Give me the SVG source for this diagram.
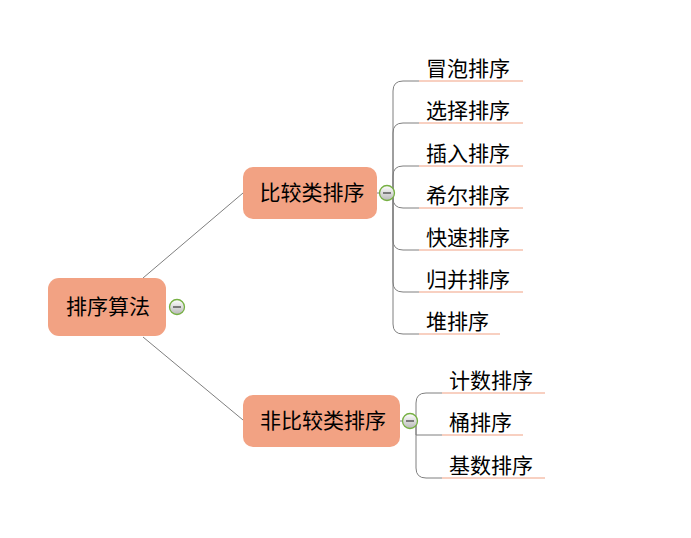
<svg xmlns="http://www.w3.org/2000/svg" width="691" height="538" viewBox="0 0 691 538">
<defs>
<linearGradient id="btn" x1="0" y1="0" x2="0" y2="1">
<stop offset="0" stop-color="#ffffff"/>
<stop offset="1" stop-color="#b8b8b8"/>
</linearGradient>
</defs>
<style>
.node{fill:#F2A283;}
.t{font-family:"Noto Sans CJK SC","Noto Sans",sans-serif;font-size:21px;fill:#000;}
.nt{text-anchor:middle;}
.ln{fill:none;stroke:#7f7f7f;stroke-width:1;}
.ul{fill:none;stroke:#F2A283;stroke-width:1.2;}
.btn{fill:url(#btn);stroke:#76B043;stroke-width:1.3;}
.minus{stroke:#444;stroke-width:1.3;}
</style>
<rect width="691" height="538" fill="#ffffff"/>
<g id="connectors">
<path class="ln" d="M143,278 L243,193"/>
<path class="ln" d="M143,337 L243,420"/>
<path class="ln" d="M377,193 L381,193"/>
<path class="ln" d="M393,193 V91 Q393,81 403,81 H419"/>
<path class="ln" d="M393,193 V133 Q393,123 403,123 H419"/>
<path class="ln" d="M393,193 V176 Q393,166 403,166 H419"/>
<path class="ln" d="M393,193 V198 Q393,208 403,208 H419"/>
<path class="ln" d="M393,193 V240 Q393,250 403,250 H419"/>
<path class="ln" d="M393,193 V282 Q393,292 403,292 H419"/>
<path class="ln" d="M393,193 V324 Q393,334 403,334 H419"/>
<path class="ln" d="M400,421 L404,421"/>
<path class="ln" d="M416,421 V403 Q416,393 426,393 H442"/>
<path class="ln" d="M416,421 V435 H442"/>
<path class="ln" d="M416,421 V468 Q416,478 426,478 H442"/>
<path class="ul" d="M419,81 H523 M419,123 H523 M419,166 H523 M419,208 H523 M419,250 H523 M419,292 H523 M419,334 H500"/>
<path class="ul" d="M442,393 H545 M442,435 H523 M442,478 H545"/>
</g>
<g id="root">
<rect class="node" x="48" y="278" width="118" height="58" rx="11"/>
<text class="t nt" x="108" y="314">排序算法</text>
</g>
<g id="root-toggle">
<circle class="btn" cx="177" cy="307" r="7.5"/>
<line class="minus" x1="173" y1="307" x2="181" y2="307"/>
</g>
<g id="compare">
<rect class="node" x="243" y="167" width="134" height="52" rx="10"/>
<text class="t nt" x="312" y="200">比较类排序</text>
</g>
<g id="compare-toggle">
<circle class="btn" cx="387" cy="193" r="7.5"/>
<line class="minus" x1="383" y1="193" x2="391" y2="193"/>
</g>
<g id="noncompare">
<rect class="node" x="243" y="395" width="157" height="52" rx="10"/>
<text class="t nt" x="323" y="428">非比较类排序</text>
</g>
<g id="noncompare-toggle">
<circle class="btn" cx="410" cy="421" r="7.5"/>
<line class="minus" x1="406" y1="421" x2="414" y2="421"/>
</g>
<g id="bubble"><text class="t" x="426" y="76">冒泡排序</text></g>
<g id="selection"><text class="t" x="426" y="118">选择排序</text></g>
<g id="insertion"><text class="t" x="426" y="161">插入排序</text></g>
<g id="shell"><text class="t" x="426" y="203">希尔排序</text></g>
<g id="quick"><text class="t" x="426" y="245">快速排序</text></g>
<g id="merge"><text class="t" x="426" y="287">归并排序</text></g>
<g id="heap"><text class="t" x="426" y="329">堆排序</text></g>
<g id="counting"><text class="t" x="449" y="388">计数排序</text></g>
<g id="bucket"><text class="t" x="449" y="430">桶排序</text></g>
<g id="radix"><text class="t" x="449" y="473">基数排序</text></g>
</svg>
